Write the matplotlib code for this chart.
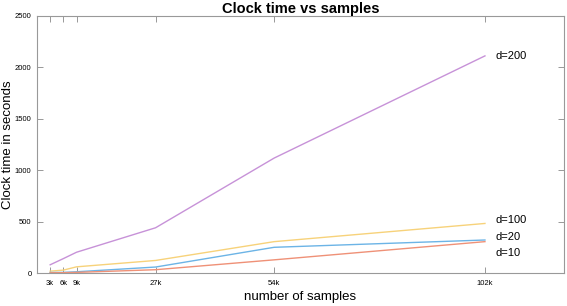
import matplotlib
matplotlib.use('AGG')
import matplotlib.pyplot as plt

samples = [3000, 6000, 9000, 27000, 54000, 102000]
tick_labels = ['3k', '6k', '9k', '27k', '54k', '102k']
d200 = [80, 140, 202, 440, 1118, 2112]
d100 = [18, 28, 60, 122, 305, 482]
d20 = [5, 6, 12, 58, 250, 321]
d10 = [2, 3, 6, 32, 128, 305]

series = [('d=200', d200, '#c792d8', 2115),
          ('d=100', d100, '#f7d27a', 515),
          ('d=20', d20, '#6cb4e6', 350),
          ('d=10', d10, '#ef9177', 195)]

plt.rcParams['font.family'] = ['Liberation Sans', 'DejaVu Sans']

fig = plt.figure(figsize=(5.67, 3.06), dpi=100)
ax = fig.add_axes([37/567, 1 - 273/306, 527/567, 257/306])

for name, vals, col, ytxt in series:
    ax.plot(samples, vals, color=col, lw=1.0)
    ax.text(104500, ytxt, name, fontsize=8, va='center', ha='left')

ax.set_xlim(0, 120000)
ax.set_ylim(0, 2500)
ax.set_xticks(samples)
ax.set_xticklabels(tick_labels)
ax.set_yticks(range(0, 2501, 500))
ax.tick_params(direction='in', length=4, width=0.6, color='#888888',
               labelsize=5.5, top=True, right=True)
ax.tick_params(axis='x', pad=5)
ax.tick_params(axis='y', pad=4)
for s in ax.spines.values():
    s.set_color('#999999')
    s.set_linewidth(0.8)

ax.set_title('Clock time vs samples', fontsize=10.5, fontweight='bold', pad=2)
ax.set_xlabel('number of samples', fontsize=9.5, va='center')
ax.set_ylabel('Clock time in seconds', fontsize=9.5, va='center')
ax.xaxis.set_label_coords(0.5, -0.093)
ax.yaxis.set_label_coords(-0.055, 0.5)

fig.savefig('out.png')
plt.close(fig)
